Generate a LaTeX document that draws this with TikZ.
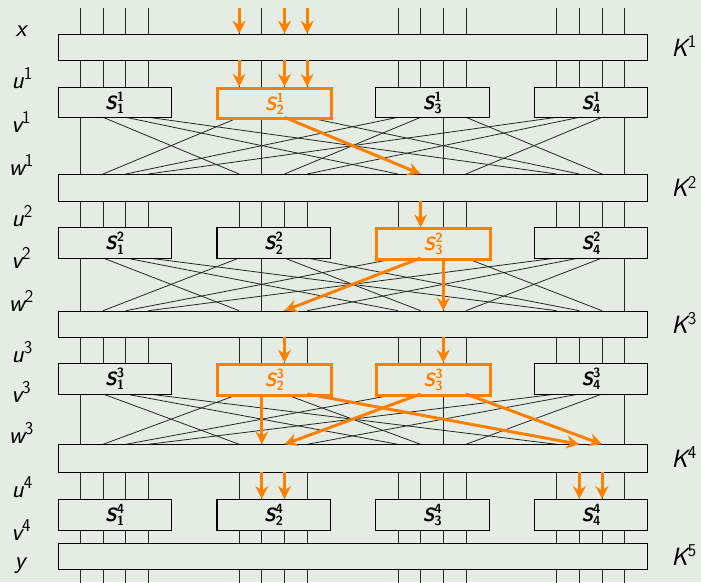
\documentclass[tikz,border=0pt]{standalone}
\usepackage{fontspec}
\usepackage{amsmath}
\usetikzlibrary{arrows.meta}
\definecolor{bg}{RGB}{228,236,228}
\definecolor{hl}{RGB}{255,128,0}
\newcommand\bitx[1]{57.7+22.68*(7*floor(#1/4)+mod(#1,4)+1)}
\newcommand\slab[2]{$\text{\sffamily\bfseries\itshape S}^{\text{\sffamily\bfseries #1}}_{\text{\sffamily\bfseries #2}}$}
\newcommand\vlab[2]{{\sffamily\itshape #1}\raisebox{8.5pt}{\sffamily\fontsize{18}{18}\selectfont #2}}
\begin{document}
\begin{tikzpicture}[x=1pt,y=-1pt,
  wire/.style={line width=0.8pt, black!85},
  keybar/.style={draw=black, line width=1.1pt, fill=bg, inner sep=0pt, minimum width=589.6pt, anchor=north west},
  sbox/.style={draw=black, line width=1.1pt, fill=bg, inner sep=0pt, minimum width=113.4pt, anchor=north west, font=\fontsize{19}{19}\selectfont},
  hlbox/.style={draw=hl, line width=3pt, text=hl},
  hlarrow/.style={hl, line width=3pt, -{Stealth[length=13pt,width=13pt,inset=4.5pt]}},
  lbl/.style={font=\fontsize{25}{25}\selectfont, inner sep=0pt},
  hl1-2/.style={hlbox}, hl2-3/.style={hlbox}, hl3-2/.style={hlbox}, hl3-3/.style={hlbox}
]
\fill[bg] (0,0) rectangle (701,582);
\useasboundingbox (0,0) rectangle (701,582);

% bit coordinates
\foreach \b in {0,...,15}{
  \pgfmathsetmacro\bx{\bitx{\b}}
  \coordinate (top-\b) at (\bx,8.3);
  \coordinate (bot-\b) at (\bx,584);
}
\foreach \r/\kt/\kb in {1/33.7/60.3, 2/174/200.7, 3/310.7/336.7, 4/444.3/472.3, 5/543.3/569.3}{
  \foreach \b in {0,...,15}{
    \pgfmathsetmacro\bx{\bitx{\b}}
    \coordinate (kin\r-\b) at (\bx,\kt);
    \coordinate (kout\r-\b) at (\bx,\kb);
  }
}
\foreach \r/\st/\sb in {1/86.7/117.3, 2/227.3/258, 3/362.7/394, 4/499/530}{
  \foreach \b in {0,...,15}{
    \pgfmathsetmacro\bx{\bitx{\b}}
    \coordinate (sin\r-\b) at (\bx,\st);
    \coordinate (sout\r-\b) at (\bx,\sb);
  }
}

% black wires
\foreach \b in {0,...,15}{
  \draw[wire] (top-\b) -- (kin1-\b);
  \draw[wire] (sout4-\b) -- (kin5-\b);
  \draw[wire] (kout5-\b) -- (bot-\b);
  \foreach \r in {1,...,4}{
    \draw[wire] (kout\r-\b) -- (sin\r-\b);
  }
  \foreach \r in {1,2,3}{
    \pgfmathtruncatemacro\t{4*mod(\b,4)+floor(\b/4)}
    \pgfmathtruncatemacro\rn{\r+1}
    \draw[wire] (sout\r-\b) -- (kin\rn-\t);
  }
}

% key bars
\foreach \r/\kt/\kb in {1/33.7/60.3, 2/174/200.7, 3/310.7/336.7, 4/444.3/472.3, 5/543.3/569.3}{
  \pgfmathsetmacro\h{\kb-\kt}
  \node[keybar, minimum height=\h pt] (K\r) at (57.7,\kt) {};
  \node[lbl] (KL\r) at (684,{(\kt+\kb)/2-1}) {\vlab{K}{\r}};
}

% S-boxes
\foreach \r/\st/\sb in {1/86.7/117.3, 2/227.3/258, 3/362.7/394, 4/499/530}{
  \pgfmathsetmacro\h{\sb-\st}
  \foreach \j in {1,...,4}{
    \pgfmathsetmacro\sx{57.7+158.76*(\j-1)}
    \node[sbox, minimum height=\h pt, hl\r-\j/.try] (S\r-\j) at (\sx,\st) {\slab{\r}{\j}};
  }
}

% left labels
\node[lbl] (lx) at (21,31) {\vlab{x}{}};
\node[lbl] (lu1) at (22,78) {\vlab{u}{1}};
\node[lbl] (lv1) at (21,122) {\vlab{v}{1}};
\node[lbl] (lw1) at (21,165) {\vlab{w}{1}};
\node[lbl] (lu2) at (22,216) {\vlab{u}{2}};
\node[lbl] (lv2) at (21,258) {\vlab{v}{2}};
\node[lbl] (lw2) at (21,301) {\vlab{w}{2}};
\node[lbl] (lu3) at (22,352) {\vlab{u}{3}};
\node[lbl] (lv3) at (21,392) {\vlab{v}{3}};
\node[lbl] (lw3) at (21,433) {\vlab{w}{3}};
\node[lbl] (lu4) at (22,487) {\vlab{u}{4}};
\node[lbl] (lv4) at (21,530) {\vlab{v}{4}};
\node[lbl] (ly) at (20,566) {\vlab{y}{}};

% orange trail
\foreach \b in {4,6,7}{
  \draw[hlarrow] (top-\b) -- (kin1-\b);
  \draw[hlarrow] (kout1-\b) -- (sin1-\b);
}
\draw[hlarrow] (sout1-6) -- (kin2-9);
\draw[hlarrow] (kout2-9) -- (sin2-9);
\draw[hlarrow] (sout2-9) -- (kin3-6);
\draw[hlarrow] (sout2-10) -- (kin3-10);
\draw[hlarrow] (kout3-6) -- (sin3-6);
\draw[hlarrow] (kout3-10) -- (sin3-10);
\draw[hlarrow] (sout3-5) -- (kin4-5);
\draw[hlarrow] (sout3-7) -- (kin4-13);
\draw[hlarrow] (sout3-9) -- (kin4-6);
\draw[hlarrow] (sout3-11) -- (kin4-14);
\foreach \b in {5,6,13,14}{
  \draw[hlarrow] (kout4-\b) -- (sin4-\b);
}
\end{tikzpicture}
\end{document}
